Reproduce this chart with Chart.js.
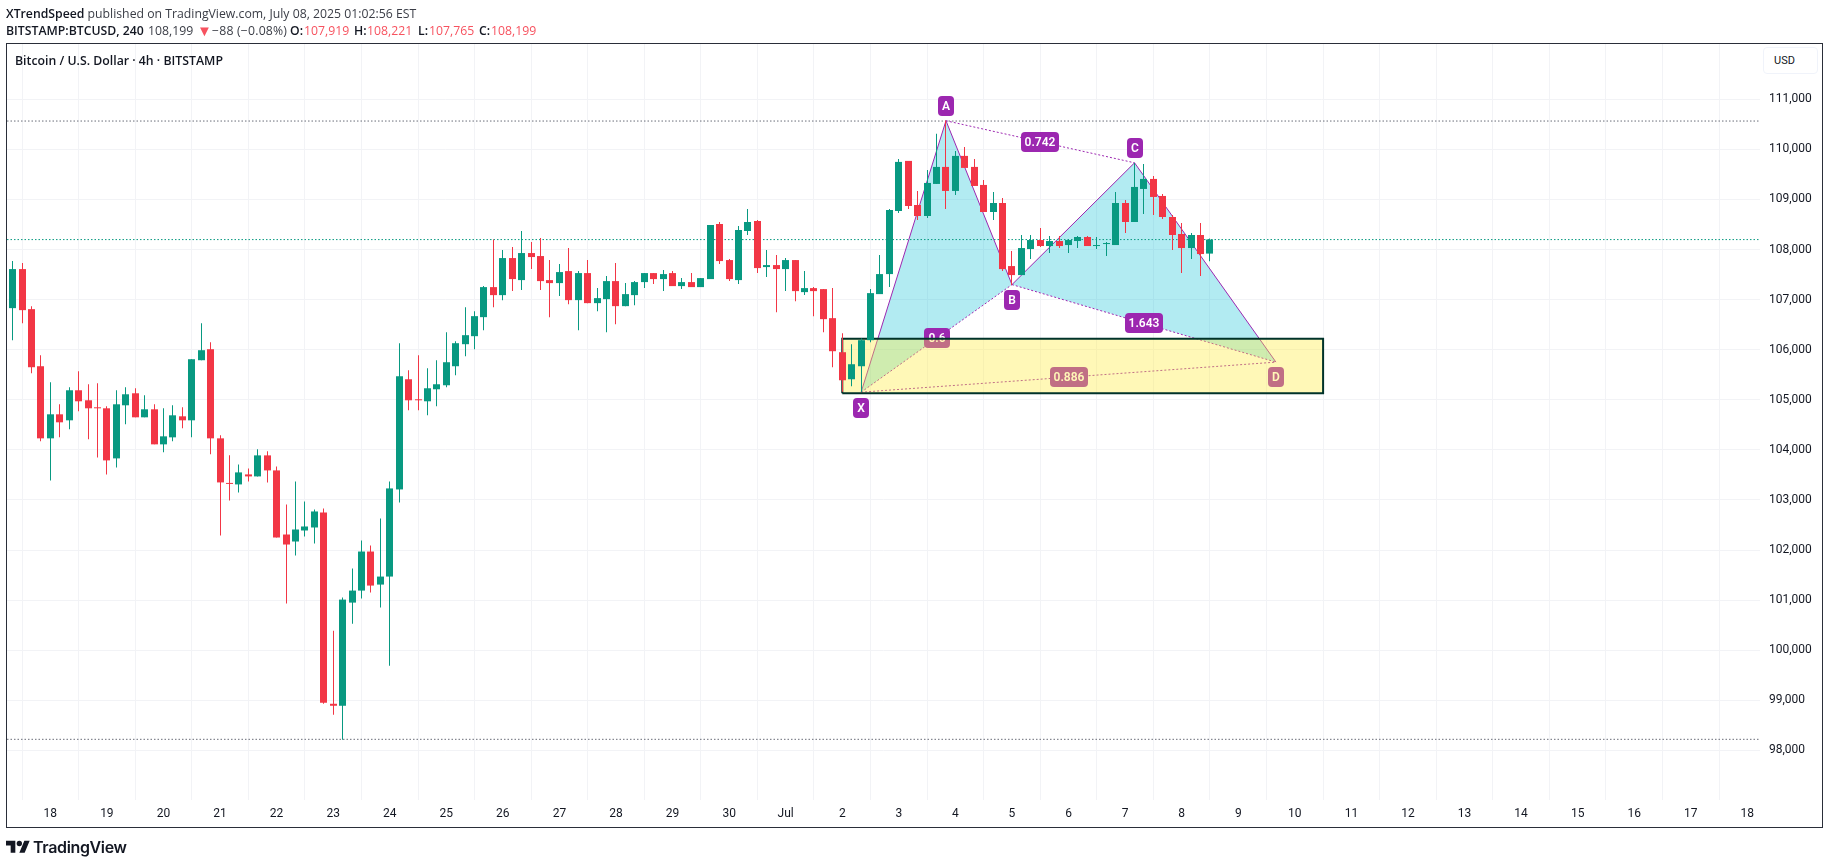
<!DOCTYPE html>
<html>
<head>
<meta charset="utf-8">
<script src="https://cdn.jsdelivr.net/npm/chart.js@4"></script>
<style>
html,body{margin:0;padding:0;background:#fff;width:1829px;height:865px;overflow:hidden;font-family:"Open Sans",sans-serif;color:#131722}
canvas{position:absolute;left:0;top:0}
.t{position:absolute;white-space:nowrap}
.l{font-size:12.25px;line-height:17px;color:#3a3d46}
.l b,b.l{font-weight:600;color:#131722}
.r{color:#f7525f}
#frame{position:absolute;left:6px;top:43px;width:1817px;height:785px;box-sizing:border-box;border:1px solid #2a2e39;pointer-events:none}
#usd{position:absolute;left:1763px;top:47px;width:55px;height:27px;box-sizing:border-box;border:1px solid #f0f3fa;border-radius:4px;font:11px Roboto,sans-serif;line-height:25px;padding-left:10px;color:#131722;background:#fff}
</style>
</head>
<body>
<canvas id="c" width="1829" height="865"></canvas>
<div class="t l" style="left:6px;top:5px"><b>XTrendSpeed</b> published on TradingView.com, July 08, 2025 01:02:56 EST</div>
<b class="t l" style="left:6px;top:22px">BITSTAMP:BTCUSD, 240</b>
<span class="t l" style="left:148px;top:22px">108,199</span>
<span class="t r" style="left:197px;top:21px;font-size:15px;line-height:18px">▼</span>
<span class="t l" style="left:212px;top:22px;letter-spacing:.2px">−88 (−0.08%)</span>
<b class="t l" style="left:290px;top:22px">O:</b><span class="t l r" style="left:304px;top:22px">107,919</span>
<b class="t l" style="left:354px;top:22px">H:</b><span class="t l r" style="left:367px;top:22px">108,221</span>
<b class="t l" style="left:418px;top:22px">L:</b><span class="t l r" style="left:429px;top:22px">107,765</span>
<b class="t l" style="left:479px;top:22px">C:</b><span class="t l r" style="left:491px;top:22px">108,199</span>
<div class="t" style="left:15px;top:52px;font-size:12.3px;font-weight:600;line-height:17px">Bitcoin / U.S. Dollar · 4h · BITSTAMP</div>
<div id="frame"></div>
<div id="usd">USD</div>
<svg style="position:absolute;left:6px;top:838px" width="24" height="19" viewBox="0 0 36 28"><path fill="#131722" d="M14 22H7V11H0V4h14v18zM28 22h-8l7.5-18h8L28 22z"/><circle fill="#131722" cx="20" cy="8" r="4"/></svg>
<div class="t" style="left:33px;top:837px;font:600 16px/20px Inter,sans-serif;letter-spacing:-.35px;color:#131722">TradingView</div>
<script>
const opens=[106830,107610,106810,105670,104230,104710,104590,105190,104990,104850,104830,103830,104890,105130,104650,104810,104110,104250,104670,104590,105790,106010,104230,103330,103310,103510,103470,103890,103590,102310,102170,102390,102450,102750,98930,98890,100950,101190,101970,101310,101470,103210,105410,105010,104970,105210,105290,105670,106110,106270,106650,107250,107090,107830,107390,107930,107870,107390,107330,107570,106990,107530,106930,107010,107370,106870,107090,107350,107530,107410,107530,107270,107350,107250,107410,108510,107790,107390,108370,108570,107650,107690,107610,107790,107150,107230,107210,106630,105950,105410,105670,106190,107110,107510,108770,109770,108890,108670,109310,109650,109170,109870,109650,109290,108750,108930,107670,107490,108010,108190,108070,108170,108090,108170,108250,108070,108110,108090,108930,108550,109210,109410,109070,108650,108310,108030,108290,107919];
const closes=[107610,106790,105650,104230,104710,104550,105190,104970,104830,104830,103790,104910,105110,104650,104810,104110,104270,104690,104590,105810,105990,104230,103350,103320,103550,103470,103890,103590,102250,102110,102410,102470,102770,98950,98890,101010,101190,101970,101290,101470,103230,105470,104990,104990,105230,105310,105750,106130,106290,106670,107250,107090,107830,107410,107930,107850,107370,107330,107550,106990,107530,106930,107030,107370,106870,107110,107350,107530,107410,107510,107270,107350,107250,107430,108490,107770,107410,108390,108550,107630,107690,107610,107790,107170,107230,107170,106610,105970,105390,105710,106190,107130,107510,108790,109750,108870,108670,109330,109650,109170,109870,109630,109270,108750,108930,107610,107490,108030,108190,108070,108170,108070,108190,108250,108070,108090,108130,108930,108550,109250,109410,109050,108650,108290,108030,108290,107910,108199];
const highs=[107770,107730,106870,105890,105350,104910,105250,105570,105310,105330,104870,105190,105250,105230,105090,104910,104830,104890,104850,105810,106530,106150,104290,103890,103710,103630,104010,103970,103670,102910,103370,102970,102810,102830,100390,101050,101630,102190,102090,102630,103370,106130,105590,105890,105630,105790,106350,106170,106850,106770,107270,108200,107990,108050,108370,108150,108230,107790,107710,108030,107570,107790,107230,107470,107730,107330,107370,107530,107530,107590,107570,107430,107530,107430,108490,108550,107810,108470,108810,108590,107990,107890,107830,107790,107570,107250,107210,107230,106330,106110,106223,107210,107890,108810,109810,109770,109170,109590,110310,110577,109970,110050,109810,109390,109150,109030,107970,108290,108290,108430,108270,108270,108210,108270,108270,108250,108150,109150,108990,109730,109710,109470,109110,108690,108530,108330,108530,108221];
const lows=[106190,106530,105530,104170,103390,104250,104410,104770,104210,103850,103510,103650,104510,104650,104650,104110,103950,104170,104430,104250,105790,103910,102290,102990,103150,103370,103470,103350,102250,100930,101890,102270,102130,98930,98710,98210,100530,101030,101150,100850,99690,102950,104790,104790,104690,104870,105250,105490,105870,106010,106390,106850,106990,107170,107190,107610,107190,106650,107070,106910,106390,106930,106770,106350,106510,106870,106890,107230,107310,107170,107270,107210,107250,107250,107410,107710,107370,107310,108290,107530,107450,106750,107170,106970,107090,106670,106350,105650,105160,105270,105157,106150,107110,107250,108730,108810,108590,108630,109310,108810,109090,109630,109270,108750,108590,107570,107290,107490,107810,108050,107930,108030,107930,108030,108070,108010,107870,108090,108330,108550,108710,108690,108610,107990,107530,107810,107470,107765];

const dayTickBars=[4,10,16,22,28,34,40,46,52,58,64,70,76,82,88,94,100,106,112,118,124,130,136,142,148,154,160,166,172,178,184];
const dayLabels=["18","19","20","21","22","23","24","25","26","27","28","29","30","Jul","2","3","4","5","6","7","8","9","10","11","12","13","14","15","16","17","18"];
const priceTicks=[98000,99000,100000,101000,102000,103000,104000,105000,106000,107000,108000,109000,110000,111000];

// Harmonic XABCD pattern
const vertexNames=["X","A","B","C","D"];
const vertexBars=[90,99,106,119,134];
const vertexPrices=[105152,110572,107300,109732,105752];
const ratioLegs=[[0,2],[1,3],[2,4],[0,4]];
const ratioText=["0.6","0.742","1.643","0.886"];

// Zone box
const boxBars=[88,139];
const boxPrices=[105132,106220];

// Horizontal dotted price levels
const levelHigh=110566;
const levelLast=108199;
const levelLow=98220;

const GREEN='#089981', RED='#f23645', PURPLE='#9c27b0', GRID='#f2f3f6';
const X_MIN=-0.593, X_MAX=185.34, Y_MIN=97008.4, Y_MAX=112104.4;
const barIdx=opens.map((_,i)=>i);
const colorAt=c=>{const i=c.dataIndex;return closes[i]>=opens[i]?GREEN:RED;};
const vtx=i=>({x:vertexBars[i],y:vertexPrices[i]});
const hline=v=>[{x:X_MIN,y:v},{x:X_MAX,y:v}];
const poly=(data,extra)=>Object.assign({type:'scatter',showLine:true,data,pointRadius:0,borderWidth:0,tension:0},extra);
const leg=(a,b)=>poly([vtx(a),vtx(b)],{borderColor:PURPLE,borderWidth:1,borderDash:[2,2],order:70});

const datasets=[
  poly(hline(levelHigh),{borderColor:'#6a6d78',borderWidth:1,borderDash:[1.5,2],order:90}),
  poly(hline(levelLow),{borderColor:'#6a6d78',borderWidth:1,borderDash:[1.5,2],order:90}),
  poly([vtx(0),vtx(1),vtx(2)],{fill:'shape',backgroundColor:'rgba(0,188,212,0.3)',order:80}),
  poly([vtx(2),vtx(3),vtx(4)],{fill:'shape',backgroundColor:'rgba(0,188,212,0.3)',order:80}),
  ...ratioLegs.map(p=>leg(p[0],p[1])),
  poly([0,1,2,3,4].map(vtx),{borderColor:PURPLE,borderWidth:1,order:65}),
  poly([{x:boxBars[0],y:boxPrices[0]},{x:boxBars[0],y:boxPrices[1]},{x:boxBars[1],y:boxPrices[1]},{x:boxBars[1],y:boxPrices[0]},{x:boxBars[0],y:boxPrices[0]}],
       {fill:'shape',backgroundColor:'rgba(255,235,59,0.37)',borderColor:'#00332a',borderWidth:2,order:50}),
  poly(hline(levelLast),{borderColor:GREEN,borderWidth:1,borderDash:[1.5,2],order:45}),
  {type:'bar',label:'wick',data:barIdx.map(i=>({x:i,y:[lows[i],highs[i]]})),backgroundColor:colorAt,barThickness:1,order:20,inflateAmount:0},
  {type:'bar',label:'body',data:barIdx.map(i=>({x:i,y:[opens[i],closes[i]]})),backgroundColor:colorAt,barThickness:7,order:10,inflateAmount:0,minBarLength:1}
];
const lastPatternIndex=datasets.findIndex(d=>d.order===65);

function tag(ctx,cx,cy,text,w){
  ctx.beginPath();
  ctx.roundRect(Math.round(cx-w/2),Math.round(cy-10),w,20,4);
  ctx.fillStyle=PURPLE;ctx.fill();
  ctx.fillStyle='#fff';
  ctx.font='600 12px Roboto,sans-serif';
  ctx.textAlign='center';ctx.textBaseline='middle';
  ctx.fillText(text,Math.round(cx),Math.round(cy)+0.5);
}
const patternLabels={
  id:'patternLabels',
  afterDatasetDraw(chart,args){
    if(args.index!==lastPatternIndex)return;
    const {ctx,scales:{x,y}}=chart;
    const px=i=>x.getPixelForValue(vertexBars[i]), py=i=>y.getPixelForValue(vertexPrices[i]);
    const side=[16,-15,15,-15,15];
    ctx.save();
    vertexNames.forEach((n,i)=>tag(ctx,px(i),py(i)+side[i],n,16));
    ratioLegs.forEach((p,k)=>tag(ctx,(px(p[0])+px(p[1]))/2,(py(p[0])+py(p[1]))/2,ratioText[k],ratioText[k].length>3?38:26));
    ctx.restore();
  }
};
const snapBars={
  id:'snapBars',
  beforeDatasetsDraw(chart){
    chart.getSortedVisibleDatasetMetas().forEach(m=>{
      if(m.type==='bar')m.data.forEach(el=>{el.x=Math.floor(el.x)+0.5;});
    });
  }
};

new Chart(document.getElementById('c'),{
  type:'bar',
  data:{datasets},
  plugins:[patternLabels,snapBars],
  options:{
    responsive:false,animation:false,events:[],
    layout:{autoPadding:false,padding:{left:7,top:44,right:6,bottom:37}},
    datasets:{bar:{grouped:false}},
    plugins:{legend:{display:false},tooltip:{enabled:false},title:{display:false}},
    scales:{
      x:{type:'linear',position:'bottom',offset:false,min:X_MIN,max:X_MAX,
        afterBuildTicks:s=>{s.ticks=dayTickBars.map(v=>({value:v}));},
        afterFit:s=>{s.height=28;},
        grid:{color:GRID,drawTicks:false},border:{display:false},
        ticks:{autoSkip:false,maxRotation:0,minRotation:0,padding:7,color:'#131722',font:{family:'Roboto',size:12},
          callback:v=>dayLabels[dayTickBars.indexOf(v)]}},
      y:{type:'linear',position:'right',min:Y_MIN,max:Y_MAX,
        afterBuildTicks:s=>{s.ticks=priceTicks.map(v=>({value:v}));},
        afterFit:s=>{s.width=63;},
        grid:{color:GRID,drawTicks:false},border:{display:false},
        ticks:{padding:9,color:'#131722',font:{family:'Roboto',size:12},
          callback:v=>v.toLocaleString('en-US')}}
    }
  }
});
</script>
</body>
</html>
